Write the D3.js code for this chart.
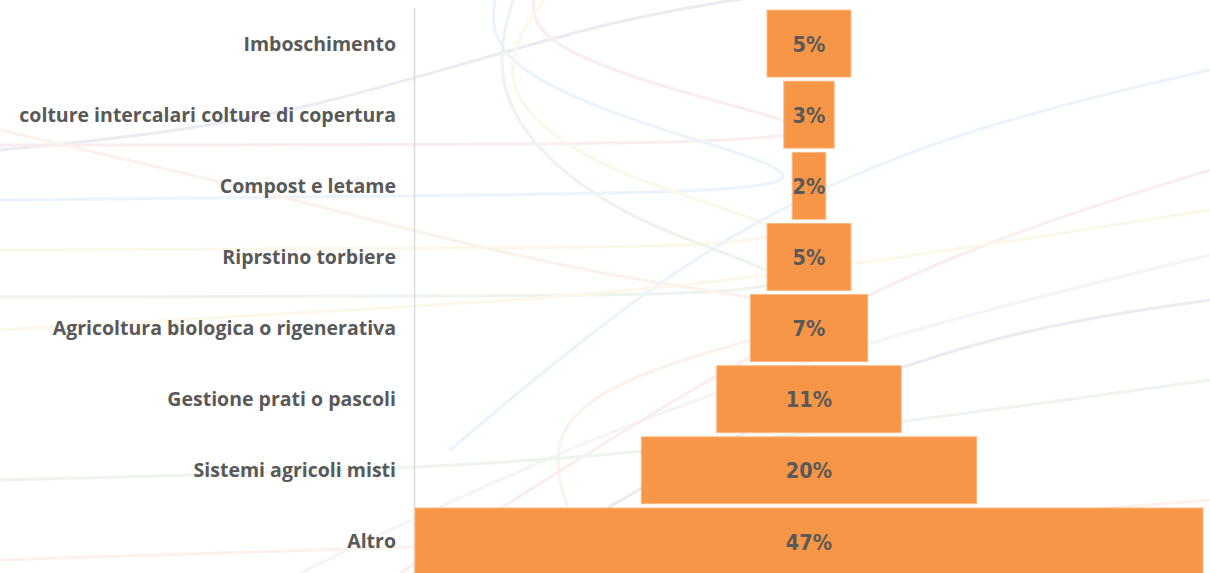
<!DOCTYPE html>
<html><head><meta charset="utf-8">
<script src="https://cdn.jsdelivr.net/npm/d3@7"></script>
<style>
html,body{margin:0;padding:0;background:#fff;}
svg{display:block;}
</style></head>
<body>
<svg id="c" width="1210" height="573"></svg>
<script>
const categories = ["Imboschimento","colture intercalari colture di copertura","Compost e letame","Riprstino torbiere","Agricoltura biologica o rigenerativa","Gestione prati o pascoli","Sistemi agricoli misti","Altro"];
const values = [5,3,2,5,7,11,20,47];
const valueLabels = ["5%","3%","2%","5%","7%","11%","20%","47%"];

const W = 1210, H = 573;
const svg = d3.select("#c");
const axisX = 414.5, centerX = 809;

// decorative faint background swirls
const deco = svg.append("g").attr("fill","none").attr("stroke-width",3).attr("opacity",0.11);
const swirlColors = ["#5050a0","#e06070","#60a0e0","#f0c040","#60a060","#e09050","#a0a0e0"];
const line = d3.line().curve(d3.curveBasis);
const swirls = [
  [[0,150],[300,120],[620,10],[900,-20]],
  [[0,145],[500,145],[880,140],[700,100],[520,40],[540,-20]],
  [[0,200],[500,195],[880,190],[650,130],[480,60],[500,-20]],
  [[0,250],[500,248],[880,245],[600,180],[480,80],[560,-20]],
  [[0,297],[500,296],[880,293],[620,230],[480,100],[520,-20]],
  [[0,130],[300,200],[600,280],[880,310],[700,350],[520,420],[600,573]],
  [[300,573],[600,430],[900,330],[1210,255]],
  [[500,573],[750,420],[1000,330],[1210,300]],
  [[400,573],[700,380],[950,250],[1210,170]],
  [[450,450],[700,240],[950,130],[1210,70]],
  [[0,330],[350,310],[700,290],[1210,210]],
  [[0,480],[400,470],[700,450],[1210,380]],
  [[0,560],[300,550],[700,540],[1210,500]]
];
swirls.forEach((s,i)=>deco.append("path").attr("d",line(s)).attr("stroke",swirlColors[i%swirlColors.length]));

const y = d3.scaleBand().domain(categories).range([8, 577]).paddingInner(0.06).paddingOuter(0.03);
const x = d3.scaleLinear().domain([0,47]).range([0, 788]);

// axis line
svg.append("line").attr("x1",axisX).attr("x2",axisX).attr("y1",8).attr("y2",H)
  .attr("stroke","#d9d9d9").attr("stroke-width",1.5);

const g = svg.append("g");
g.selectAll("rect").data(categories).join("rect")
  .attr("x",(d,i)=>centerX - x(values[i])/2)
  .attr("y",d=>y(d))
  .attr("width",(d,i)=>x(values[i]))
  .attr("height",y.bandwidth())
  .attr("fill","#F79646")
  .attr("stroke","#fbb67d").attr("stroke-width",1);

g.selectAll("text.v").data(categories).join("text").attr("class","v")
  .attr("x",centerX).attr("y",d=>y(d)+y.bandwidth()/2)
  .attr("dy","0.38em").attr("text-anchor","middle")
  .attr("font-family","'DejaVu Sans Condensed','DejaVu Sans',sans-serif")
  .attr("font-stretch","condensed")
  .attr("font-weight","bold").attr("font-size",21.5).attr("fill","#595959")
  .text((d,i)=>valueLabels[i]);

g.selectAll("text.c").data(categories).join("text").attr("class","c")
  .attr("x",396).attr("y",d=>y(d)+y.bandwidth()/2)
  .attr("dy","0.36em").attr("text-anchor","end")
  .attr("font-family","'Open Sans',sans-serif")
  .attr("font-weight","bold").attr("font-size",19.5).attr("fill","#595959")
  .text(d=>d);
</script>
</body></html>
